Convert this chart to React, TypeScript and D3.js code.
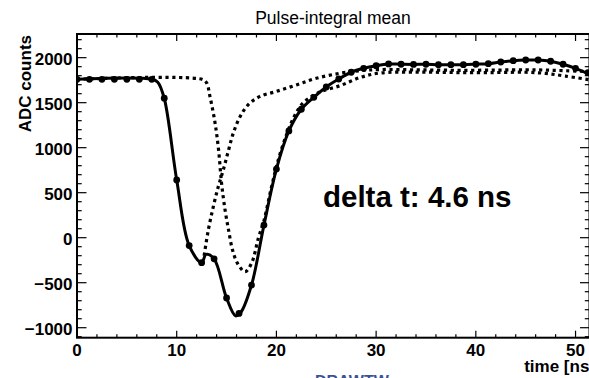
import React from "react";
import * as d3 from "d3";

// Measured samples (every 1.25 ns)
const sampleTimes: number[] = [
  0, 1.25, 2.5, 3.75, 5, 6.25, 7.5, 8.75, 10, 11.25, 12.5, 13.75, 15, 16.25, 17.5, 18.75,
  20, 21.25, 22.5, 23.75, 25, 26.25, 27.5, 28.75, 30, 31.25, 32.5, 33.75, 35, 36.25, 37.5,
  38.75, 40, 41.25, 42.5, 43.75, 45, 46.25, 47.5, 48.75, 50, 51.25,
];
const sampleValues: number[] = [
  1760, 1760, 1760, 1760, 1760, 1760, 1760, 1549, 641, -88, -278, -235, -670, -841, -526, 140,
  762, 1186, 1427, 1560, 1675, 1763, 1838, 1882, 1911, 1930, 1927, 1925, 1927, 1922, 1922,
  1922, 1927, 1933, 1952, 1967, 1974, 1974, 1960, 1927, 1882, 1833,
];

// Fitted sum curve
const fitTimes: number[] = [
  0, 7.5, 8.1, 8.75, 10, 11.25, 12.5, 12.95, 13.75, 15, 15.9, 16.4, 17.5, 18.75, 20, 21.25,
  22.5, 23.75, 25, 26.25, 27.5, 28.75, 30, 31.25, 32.5, 33.75, 35, 36.25, 37.5, 38.75, 40,
  41.25, 42.5, 43.75, 45, 46.25, 47.5, 48.75, 50, 51.4,
];
const fitValues: number[] = [
  1760, 1760, 1728, 1549, 641, -88, -278, -185, -235, -670, -868, -835, -526, 140, 762, 1186,
  1427, 1560, 1675, 1763, 1838, 1882, 1911, 1930, 1927, 1925, 1927, 1922, 1922, 1922, 1927,
  1933, 1952, 1967, 1974, 1974, 1960, 1927, 1882, 1815,
];

// First pulse component (visible part, diverging from sum)
const pulse1Times: number[] = [
  12.75, 13.17, 13.67, 14.17, 14.67, 15.17, 15.67, 16.35, 17.2, 18.3, 20, 22, 24, 26.4, 28.4,
  30.4, 34, 38, 42, 45, 47, 49, 51.4,
];
const pulse1Values: number[] = [
  -200, 86, 344, 567, 752, 960, 1160, 1344, 1480, 1567, 1625, 1697, 1771, 1827, 1855, 1868,
  1865, 1860, 1862, 1866, 1862, 1855, 1845,
];

// Second pulse component
const pulse2Times: number[] = [
  0, 12.6, 13.0, 13.34, 13.85, 14.2, 14.5, 14.85, 15.2, 15.6, 16.1, 16.85, 17.5, 18.2, 18.75,
  19.5, 20.2, 21.0, 21.8, 22.7, 24.2, 26.4, 28.4, 30.4, 34, 38, 42, 45, 47, 49, 51.4,
];
const pulse2Values: number[] = [
  1760, 1758, 1720, 1567, 1271, 974, 604, 308, 86, -137, -285, -378, -285, 0, 190, 560, 870,
  1140, 1350, 1500, 1610, 1690, 1780, 1830, 1840, 1835, 1835, 1838, 1825, 1795, 1755,
];

const xMajorTicks: number[] = [0, 10, 20, 30, 40, 50];
const yMajorTicks: number[] = [-1000, -500, 0, 500, 1000, 1500, 2000];

const title = "Pulse-integral mean";
const xTitle = "time [ns]";
const yTitle = "ADC counts";
const annotation = "delta t: 4.6 ns";

const W = 589;
const H = 378;
const L = 77;
const R = 589.5;
const T = 34;
const B = 337.7;

export default function App() {
  const x = d3.scaleLinear().domain([0, 51.4]).range([L, R]);
  const y = d3.scaleLinear().domain([-1111, 2263]).range([B, T]);

  const line = d3
    .line<[number, number]>()
    .x((d) => x(d[0]))
    .y((d) => y(d[1]))
    .curve(d3.curveCatmullRom.alpha(0.5));

  const fitPts = fitTimes.map((t, i) => [t, fitValues[i]] as [number, number]);
  const p1Pts = pulse1Times.map((t, i) => [t, pulse1Values[i]] as [number, number]);
  const p2Pts = pulse2Times.map((t, i) => [t, pulse2Values[i]] as [number, number]);

  const xMinor = d3.range(0, 51.4, 2).filter((v) => v % 10 !== 0);
  const yMinor = d3.range(-1100, 2263, 100).filter((v) => v % 500 !== 0);

  const font = "'Liberation Sans', Arial, Helvetica, sans-serif";

  return (
    <svg
      width={W}
      height={H}
      style={{ position: "absolute", left: 0, top: 0, background: "#fff" }}
      fontFamily={font}
    >
      <rect x={0} y={0} width={W} height={H} fill="#fff" />
      <defs>
        <clipPath id="plotclip">
          <rect x={L} y={T} width={R - L} height={B - T} />
        </clipPath>
      </defs>

      {/* title */}
      <text x={333} y={23.5} textAnchor="middle" fontSize={17.5} fill="#000">
        {title}
      </text>

      {/* curves */}
      <g clipPath="url(#plotclip)">
        <path
          d={line(p2Pts) || ""}
          fill="none"
          stroke="#000"
          strokeWidth={3.2}
          strokeDasharray="3.2 3.6"
        />
        <path
          d={line(p1Pts) || ""}
          fill="none"
          stroke="#000"
          strokeWidth={3.2}
          strokeDasharray="3.2 3.6"
        />
        <path d={line(fitPts) || ""} fill="none" stroke="#000" strokeWidth={3} />
        {sampleTimes.map((t, i) => (
          <circle key={i} cx={x(t)} cy={y(sampleValues[i])} r={3.4} fill="#000" />
        ))}
      </g>

      {/* frame */}
      <rect x={L} y={T} width={R - L} height={B - T} fill="none" stroke="#000" strokeWidth={2} />

      {/* x ticks */}
      {xMajorTicks.map((t) => (
        <g key={"xM" + t}>
          <line x1={x(t)} x2={x(t)} y1={B} y2={B - 7} stroke="#000" strokeWidth={1.2} />
          <line x1={x(t)} x2={x(t)} y1={T} y2={T + 7} stroke="#000" strokeWidth={1.2} />
          <text
            x={x(t)}
            y={356}
            textAnchor="middle"
            fontSize={17}
            fontWeight="bold"
            fill="#000"
          >
            {t}
          </text>
        </g>
      ))}
      {xMinor.map((t) => (
        <g key={"xm" + t}>
          <line x1={x(t)} x2={x(t)} y1={B} y2={B - 3.5} stroke="#000" strokeWidth={1.2} />
          <line x1={x(t)} x2={x(t)} y1={T} y2={T + 3.5} stroke="#000" strokeWidth={1.2} />
        </g>
      ))}

      {/* y ticks */}
      {yMajorTicks.map((v) => (
        <g key={"yM" + v}>
          <line x1={L} x2={L + 9.5} y1={y(v)} y2={y(v)} stroke="#000" strokeWidth={1.2} />
          <line x1={R} x2={R - 9.5} y1={y(v)} y2={y(v)} stroke="#000" strokeWidth={1.2} />
          <text
            x={72.5}
            y={y(v) + 7}
            textAnchor="end"
            fontSize={17}
            fontWeight="bold"
            fill="#000"
          >
            {v < 0 ? "\u2212" + Math.abs(v) : v}
          </text>
        </g>
      ))}
      {yMinor.map((v) => (
        <g key={"ym" + v}>
          <line x1={L} x2={L + 4.7} y1={y(v)} y2={y(v)} stroke="#000" strokeWidth={1.2} />
          <line x1={R} x2={R - 4.7} y1={y(v)} y2={y(v)} stroke="#000" strokeWidth={1.2} />
        </g>
      ))}

      {/* axis titles */}
      <text
        transform="translate(31,35) rotate(-90)"
        textAnchor="end"
        fontSize={17}
        fontWeight="bold"
        fill="#000"
      >
        {yTitle}
      </text>
      <text x={595} y={372} textAnchor="end" fontSize={17} fontWeight="bold" fill="#000">
        {xTitle}
      </text>

      {/* annotation */}
      <text x={323} y={207} fontSize={29.5} fontWeight="bold" fill="#000">
        {annotation}
      </text>

      {/* partially visible footer text */}
      <text x={315} y={387} fontSize={16} fontWeight="bold" fill="#3b5296">
        DRAWTW
      </text>
    </svg>
  );
}
